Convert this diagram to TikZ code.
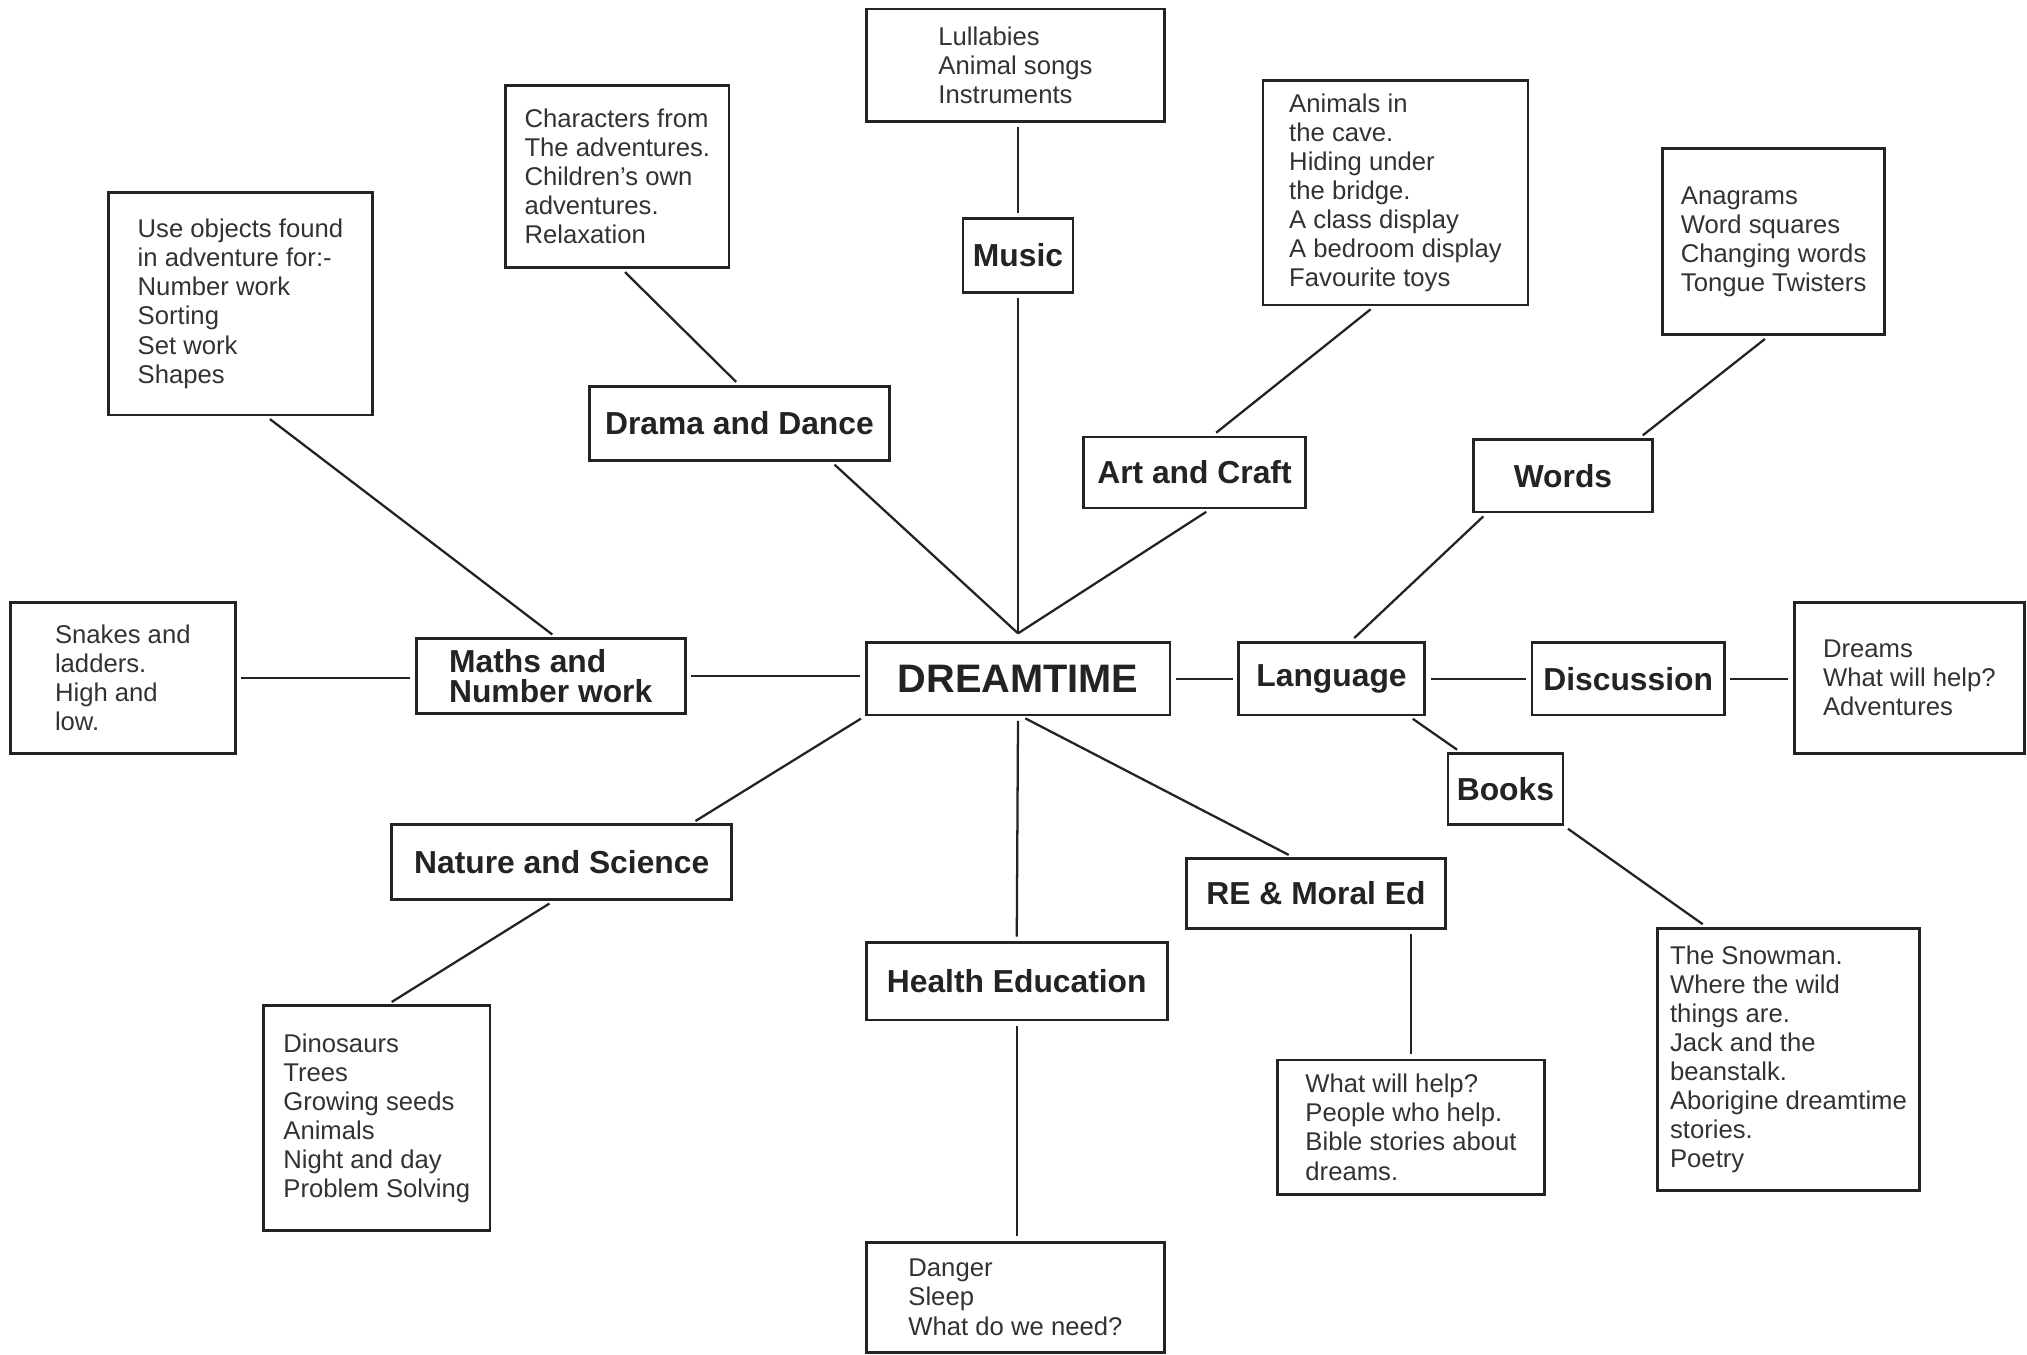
\documentclass[tikz,border=0pt]{standalone}
\usepackage{fontspec}
\setmainfont{Liberation Sans}
\usetikzlibrary{positioning, calc}
\definecolor{ink}{RGB}{35,35,35}
\definecolor{pencil}{RGB}{50,50,50}

\begin{document}
\begin{tikzpicture}[
    topic/.style={draw=ink, line width=1.2pt, inner sep=0pt, align=left, text=ink, font=\bfseries\fontsize{14}{13.5}\selectfont},
    notes/.style={draw=ink, line width=1.2pt, inner sep=0pt, align=left, text=pencil, font=\fontsize{11.3}{12.8}\selectfont},
    hub/.style={topic, font=\bfseries\fontsize{17.5}{20}\selectfont},
    link/.style={draw=ink, line width=1pt, shorten <=2pt, shorten >=2pt}
]
\useasboundingbox (0,0) rectangle (31.36,-20.96);

% Centre
\node[hub, minimum width=4.70cm, minimum height=1.12cm] (dream) at (15.75,-10.50) {DREAMTIME};
\coordinate (apex) at ([yshift=0.12cm]dream.north);

% Topics
\node[topic, minimum width=1.70cm, minimum height=1.14cm] (music) at (15.75,-3.95) {Music};
\node[topic, minimum width=4.64cm, minimum height=1.14cm] (drama) at (11.44,-6.55) {Drama and Dance};
\node[topic, minimum width=3.44cm, minimum height=1.10cm] (art) at (18.48,-7.31) {Art and Craft};
\node[topic, minimum width=2.76cm, minimum height=1.12cm] (words) at (24.18,-7.36) {Words};
\node[topic, minimum width=4.16cm, minimum height=1.16cm] (maths) at (8.52,-10.46) {Maths and\\Number work};
\node[topic, minimum width=2.88cm, minimum height=1.12cm] (language) at (20.60,-10.50) {Language};
\node[topic, minimum width=2.98cm, minimum height=1.12cm] (discussion) at (25.19,-10.50) {Discussion};
\node[topic, minimum width=1.78cm, minimum height=1.10cm] (books) at (23.29,-12.21) {Books};
\node[topic, minimum width=5.26cm, minimum height=1.16cm] (nature) at (8.69,-13.34) {Nature and Science};
\node[topic, minimum width=4.00cm, minimum height=1.08cm] (re) at (20.36,-13.82) {RE \& Moral Ed};
\node[topic, minimum width=4.66cm, minimum height=1.20cm] (health) at (15.73,-15.18) {Health Education};

% Notes
\node[notes, minimum width=4.62cm, minimum height=1.74cm] (songs) at (15.71,-1.01) {Lullabies\\Animal songs\\Instruments};
\node[notes, minimum width=3.46cm, minimum height=2.82cm] (dramalist) at (9.55,-2.73) {Characters from\\The adventures.\\Children’s own\\adventures.\\Relaxation};
\node[notes, minimum width=4.08cm, minimum height=3.44cm] (mathslist) at (3.72,-4.70) {Use objects found\\in adventure for:-\\Number work\\Sorting\\Set work\\Shapes};
\node[notes, minimum width=4.10cm, minimum height=3.48cm] (artlist) at (21.59,-2.98) {Animals in\\the cave.\\Hiding under\\the bridge.\\A class display\\A bedroom display\\Favourite toys};
\node[notes, minimum width=3.44cm, minimum height=2.88cm] (wordslist) at (27.44,-3.74) {Anagrams\\Word squares\\Changing words\\Tongue Twisters};
\node[notes, minimum width=3.48cm, minimum height=2.34cm] (games) at (1.90,-10.49) {Snakes and\\ladders.\\High and\\low.};
\node[notes, minimum width=3.56cm, minimum height=2.34cm] (talklist) at (29.54,-10.49) {Dreams\\What will help?\\Adventures};
\node[notes, minimum width=3.50cm, minimum height=3.48cm] (naturelist) at (5.83,-17.30) {Dinosaurs\\Trees\\Growing seeds\\Animals\\Night and day\\Problem Solving};
\node[notes, minimum width=4.14cm, minimum height=2.08cm] (relist) at (21.83,-17.44) {What will help?\\People who help.\\Bible stories about\\dreams.};
\node[notes, minimum width=4.06cm, minimum height=4.06cm] (bookslist) at (27.67,-16.39) {The Snowman.\\Where the wild\\things are.\\Jack and the\\beanstalk.\\Aborigine dreamtime\\stories.\\Poetry};
\node[notes, minimum width=4.62cm, minimum height=1.70cm] (healthlist) at (15.71,-20.07) {Danger\\Sleep\\What do we need?};

% Lines
\draw[link] (music.north) -- (music.north |- songs.south);
\draw[link, shorten >=0pt] (music.south) -- (apex);
\draw[link, shorten >=0pt] ([xshift=1.42cm]drama.south) -- (apex);
\draw[link, shorten >=0pt] ([xshift=0.24cm]art.south) -- (apex);
\draw[link] ([xshift=0.07cm]dramalist.south) -- (drama.north);
\draw[link] ([xshift=0.40cm]mathslist.south) -- ([xshift=0.08cm]maths.north);
\draw[link] ([xshift=-0.33cm]artlist.south) -- ([xshift=0.28cm]art.north);
\draw[link] ([xshift=-0.08cm]wordslist.south) -- ([xshift=1.18cm]words.north);
\draw[link] ([xshift=-1.18cm]words.south) -- ([xshift=0.30cm]language.north);

\draw[link] (games.east) -- (games.east -| maths.west);
\draw[link] (maths.east) -- (maths.east -| dream.west);
\draw[link] (dream.east) -- (language.west);
\draw[link] (language.east) -- (discussion.west);
\draw[link] (discussion.east) -- (discussion.east -| talklist.west);

\draw[link] ([xshift=1.20cm]language.south) -- ([xshift=-0.69cm]books.north);
\draw[link] ([xshift=0.91cm]books.south) -- ([xshift=-1.27cm]bookslist.north);
\draw[link] (dream.south west) -- ([xshift=2.01cm]nature.north);
\draw[link] ([xshift=-0.13cm]nature.south) -- ([xshift=0.17cm]naturelist.north);
\draw[link] ([xshift=0.05cm]dream.south) -- ([xshift=-0.36cm]re.north);
\draw[link] (relist.north |- re.south) -- (relist.north);
\draw[link] (dream.south) -- (health.north);
\draw[link] (health.south) -- (health.south |- healthlist.north);

\end{tikzpicture}
\end{document}
